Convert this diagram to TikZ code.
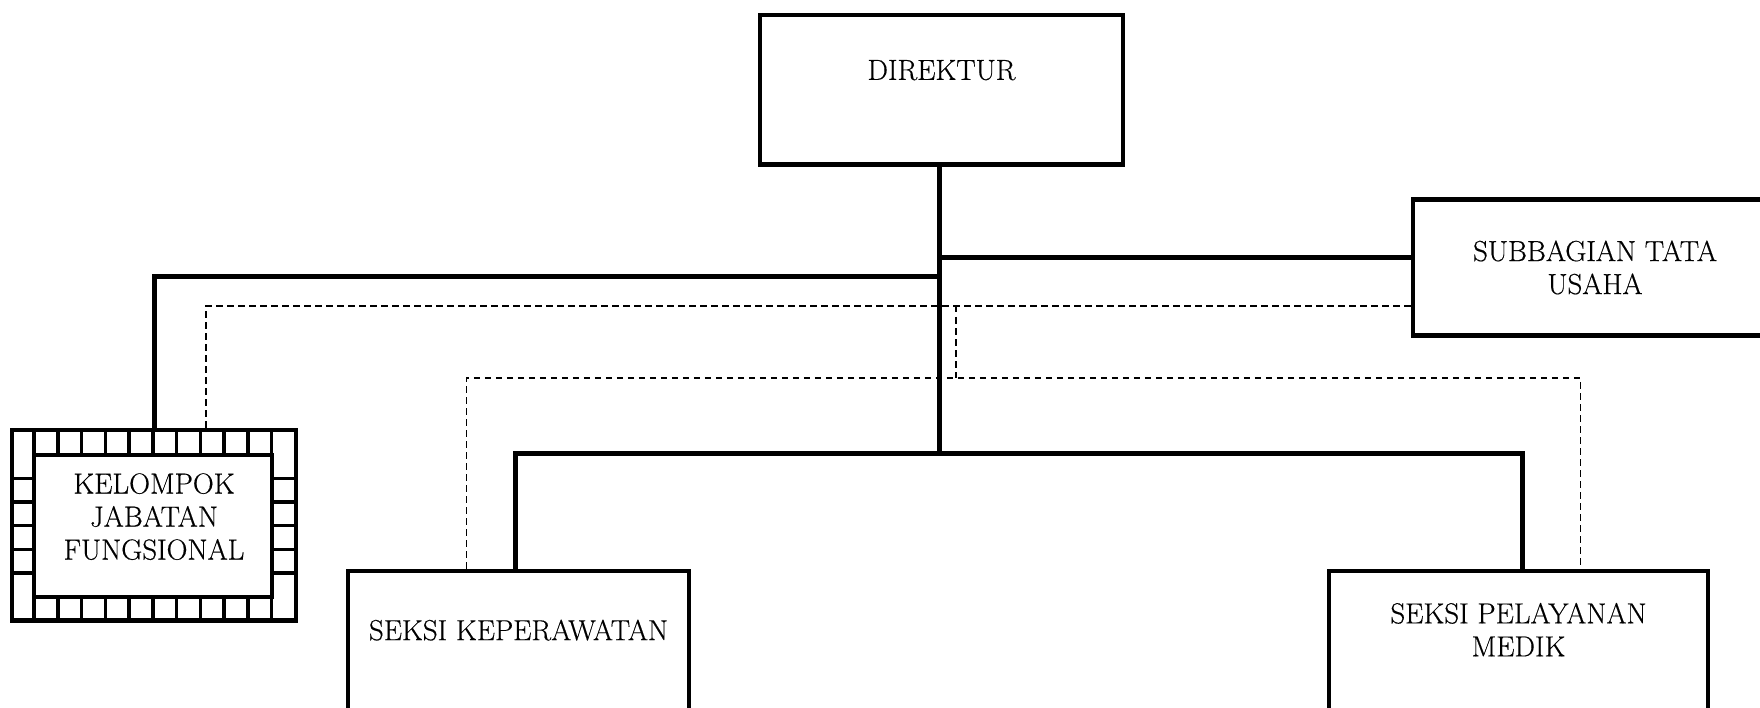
\documentclass[tikz,border=0pt]{standalone}
\usepackage{fontspec}
\newfontfamily\unitfont{Latin Modern Roman}[FakeBold=0.4]
\begin{document}
\begin{tikzpicture}[x=1pt, y=-1pt,
  unit/.style={draw, line width=4.8pt, inner sep=0pt},
  txt/.style={font=\unitfont\fontsize{29}{33}\selectfont, align=center},
  link/.style={line width=5pt},
  dline/.style={line width=1.8pt, dash pattern=on 6.5pt off 4.5pt}]
  \useasboundingbox (0,0) rectangle (1760,708);
  \node[unit, minimum width=363pt, minimum height=149.5pt, label={[txt, yshift=19.6pt]center:DIREKTUR}] (dir) at (941.5,89.75) {};
  \node[unit, minimum width=364pt, minimum height=136pt, label={[txt]center:SUBBAGIAN TATA\\USAHA}] (tu) at (1595,267.5) {};
  \node[unit, line width=4.5pt, minimum width=284pt, minimum height=190.5pt, label={[txt, yshift=8.6pt]center:KELOMPOK\\JABATAN\\FUNGSIONAL}] (kjf) at (154,525.25) {};
  \node[unit, minimum width=341pt, minimum height=144pt, label={[txt, yshift=12.9pt]center:SEKSI KEPERAWATAN}] (kep) at (518.5,643) {};
  \node[unit, minimum width=379pt, minimum height=144pt, label={[txt, yshift=13.4pt]center:SEKSI PELAYANAN\\MEDIK}] (med) at (1518.5,643) {};
  % frame of the functional group
  \draw[line width=4pt] (34,455) rectangle (271.5,596.5);
  \foreach \i in {0,...,10} {
    \draw[line width=3.5pt] ({34+23.75*\i},430) -- ++(0,25);
    \draw[line width=3.5pt] ({34+23.75*\i},596.5) -- ++(0,24);
  }
  \foreach \i in {1,...,5} {
    \draw[line width=3.5pt] (12,{455+23.58*\i}) -- (34,{455+23.58*\i});
    \draw[line width=3.5pt] (271.5,{455+23.58*\i}) -- (296,{455+23.58*\i});
  }
  % lines of command
  \coordinate (jr) at (939,257.5);
  \coordinate (jl) at (939,276.5);
  \coordinate (bus) at (939,453);
  \draw[link] (dir.south -| bus) -- (bus);
  \draw[link] (jr) -- (jr -| tu.west);
  \draw[link] (jl) -| (kjf.north);
  \draw[link] ([xshift=-3.5pt]kep.north) |- (bus) -| ([xshift=3.5pt]med.north);
  % lines of coordination
  \coordinate (da) at (956,306);
  \coordinate (db) at (956,378);
  \draw[dline] ([xshift=52pt]kjf.north) |- (da -| tu.west);
  \draw[dline] (da) -- (db);
  \draw[dline] ([xshift=-52pt]kep.north) |- (db) -| ([xshift=62pt]med.north);
\end{tikzpicture}
\end{document}
